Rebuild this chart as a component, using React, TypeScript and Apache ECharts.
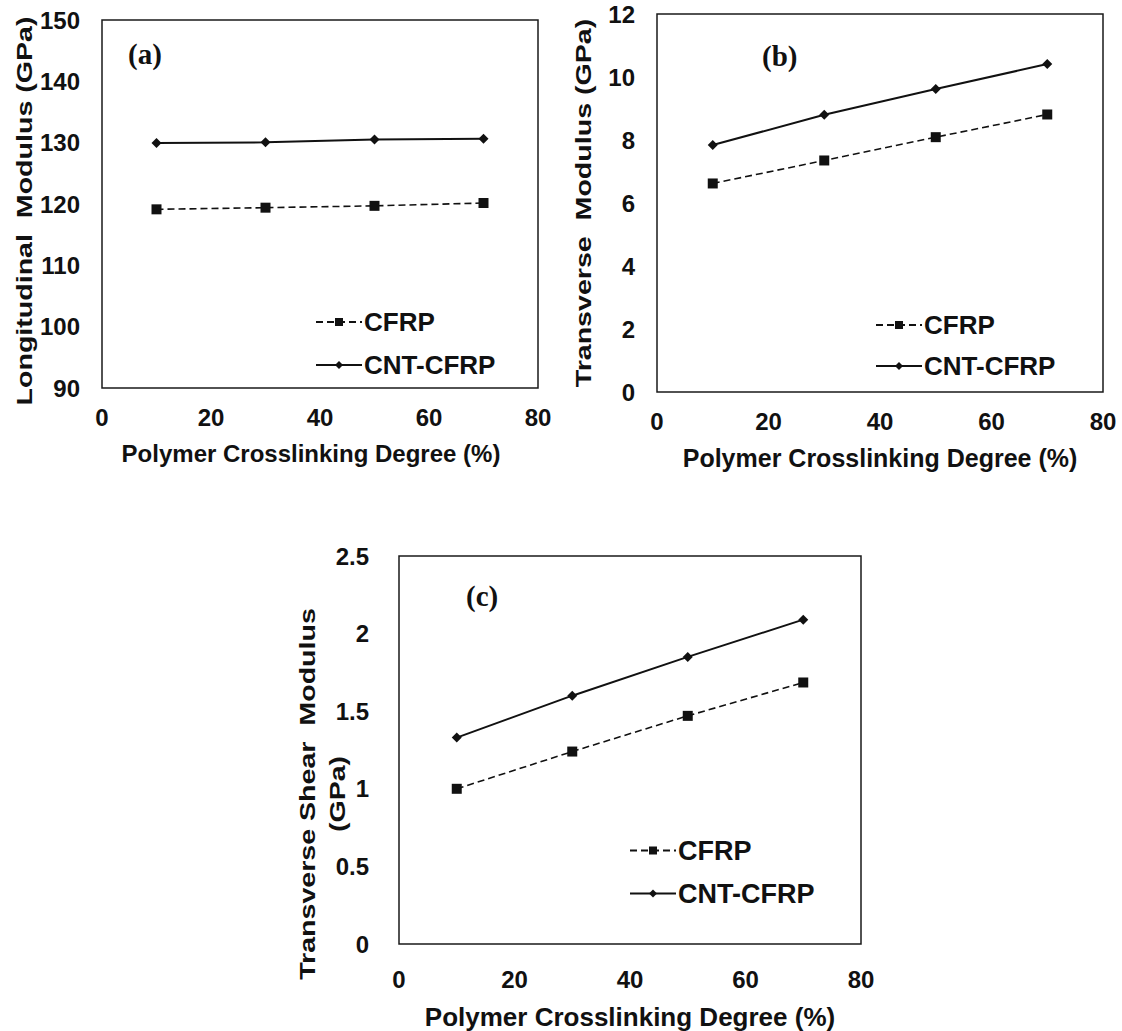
import React, { useEffect, useRef } from "react";
import * as echarts from "echarts";

// Crosslinking degree (%) at which each composite was evaluated
const crosslinking = [10, 30, 50, 70];

// (a) Longitudinal modulus, GPa
const longCFRP = [119.13, 119.4, 119.7, 120.16];
const longCNT = [129.95, 130.05, 130.5, 130.65];

// (b) Transverse modulus, GPa
const transCFRP = [6.62, 7.35, 8.09, 8.81];
const transCNT = [7.84, 8.8, 9.62, 10.41];

// (c) Transverse shear modulus, GPa
const shearCFRP = [1.0, 1.24, 1.47, 1.685];
const shearCNT = [1.33, 1.6, 1.85, 2.09];

const xTitle = "Polymer Crosslinking Degree (%)";
const panelTags = ["(a)", "(b)", "(c)"];
const yTitleLines = [
  ["Longitudinal  Modulus (GPa)"],
  ["Transverse  Modulus (GPa)"],
  ["Transverse Shear  Modulus", "(GPa)"],
];
const yRanges = [
  { min: 90, max: 150, interval: 10 },
  { min: 0, max: 12, interval: 2 },
  { min: 0, max: 2.5, interval: 0.5 },
];

const SANS = "'Liberation Sans', Arial, sans-serif";
const SERIF = "'Liberation Serif', 'Times New Roman', serif";
const INK = "#111";

// Plot-area boxes in page pixels
const boxes = [
  { left: 102, top: 20, width: 436, height: 368 },
  { left: 657, top: 14, width: 446, height: 378 },
  { left: 399, top: 556, width: 462, height: 390 },
];

// Per-panel text sizes (the lower panel is set slightly larger)
const xTitleSize = [24, 25, 26];
const legendSize = [26, 26, 27];
// Right padding nudges an x title left of the plot centre
const xTitlePad = [18, 0, 0];

// Where each rotated y title is centred (one x per line)
const yTitleAnchors = [
  { xs: [24], y: 211 },
  { xs: [583], y: 203 },
  { xs: [307, 337], y: 794 },
];

export default function App() {
  const ref = useRef<HTMLDivElement>(null);

  useEffect(() => {
    if (!ref.current) return;
    const chart = echarts.init(ref.current, undefined, { renderer: "svg" });

    const pairs = [
      [longCFRP, longCNT],
      [transCFRP, transCNT],
      [shearCFRP, shearCNT],
    ];

    const grids = boxes.map((b) => ({
      left: b.left,
      top: b.top,
      width: b.width,
      height: b.height,
      show: true,
      borderColor: "#1a1a1a",
      borderWidth: 1.5,
      backgroundColor: "transparent",
    }));

    const xAxes = boxes.map((_, i) => ({
      type: "value",
      gridIndex: i,
      min: 0,
      max: 80,
      interval: 20,
      name: xTitle,
      nameLocation: "middle",
      nameGap: i === 2 ? 60 : 53,
      nameTextStyle: {
        fontFamily: SANS,
        fontWeight: "bold",
        fontSize: xTitleSize[i],
        color: INK,
        padding: [0, xTitlePad[i], 0, 0],
      },
      axisLine: { show: false },
      axisTick: { show: false },
      splitLine: { show: false },
      axisLabel: {
        fontFamily: SANS,
        fontWeight: "bold",
        fontSize: 24,
        color: INK,
        margin: i === 2 ? 23 : 17,
      },
    }));

    const yAxes = boxes.map((_, i) => ({
      type: "value",
      gridIndex: i,
      min: yRanges[i].min,
      max: yRanges[i].max,
      interval: yRanges[i].interval,
      axisLine: { show: false },
      axisTick: { show: false },
      splitLine: { show: false },
      axisLabel: {
        fontFamily: SANS,
        fontWeight: "bold",
        fontSize: 24,
        color: INK,
        margin: i === 2 ? 30 : 22,
      },
    }));

    const series: any[] = [];
    pairs.forEach(([cfrp, cnt], i) => {
      series.push({
        name: "CFRP",
        type: "line",
        xAxisIndex: i,
        yAxisIndex: i,
        data: crosslinking.map((x, k) => [x, cfrp[k]]),
        symbol: "rect",
        symbolSize: 10,
        color: INK,
        itemStyle: { color: INK },
        lineStyle: { color: INK, width: 1.6, type: [7, 4] },
      });
      series.push({
        name: "CNT-CFRP",
        type: "line",
        xAxisIndex: i,
        yAxisIndex: i,
        data: crosslinking.map((x, k) => [x, cnt[k]]),
        symbol: "diamond",
        symbolSize: 10,
        color: INK,
        itemStyle: { color: INK },
        lineStyle: { color: INK, width: 2 },
      });
    });

    const legendPos = [
      { left: 310, top: 304, gap: 17 },
      { left: 870, top: 307, gap: 15 },
      { left: 624, top: 832, gap: 16 },
    ];
    const legends = legendPos.map((p, i) => ({
      left: p.left,
      top: p.top,
      orient: "vertical",
      itemGap: p.gap,
      itemWidth: 46,
      itemHeight: 10,
      data: ["CFRP", "CNT-CFRP"],
      textStyle: {
        fontFamily: SANS,
        fontWeight: "bold",
        fontSize: legendSize[i],
        color: INK,
        padding: [0, 0, 0, -3],
      },
      selectedMode: false,
    }));

    const tagPos = [
      { x: 128, y: 39 },
      { x: 762, y: 41 },
      { x: 466, y: 581 },
    ];
    const graphics: any[] = tagPos.map((p, i) => ({
      type: "text",
      x: p.x,
      y: p.y,
      style: {
        text: panelTags[i],
        fontFamily: SERIF,
        fontWeight: "bold",
        fontSize: 29,
        fill: INK,
      },
    }));

    // Rotated y titles, drawn stretched along their length
    yTitleLines.forEach((lines, i) => {
      lines.forEach((line, j) => {
        graphics.push({
          type: "text",
          x: yTitleAnchors[i].xs[j],
          y: yTitleAnchors[i].y,
          rotation: Math.PI / 2,
          scaleX: 1.3,
          scaleY: 1,
          style: {
            text: line,
            fontFamily: SANS,
            fontWeight: "bold",
            fontSize: 22,
            fill: INK,
            align: "center",
            verticalAlign: "middle",
          },
        });
      });
    });

    chart.setOption({
      animation: false,
      backgroundColor: "#fff",
      grid: grids,
      xAxis: xAxes,
      yAxis: yAxes,
      series,
      legend: legends,
      graphic: graphics,
    });

    return () => chart.dispose();
  }, []);

  return (
    <div
      ref={ref}
      style={{ position: "absolute", left: 0, top: 0, width: 1122, height: 1031 }}
    />
  );
}
